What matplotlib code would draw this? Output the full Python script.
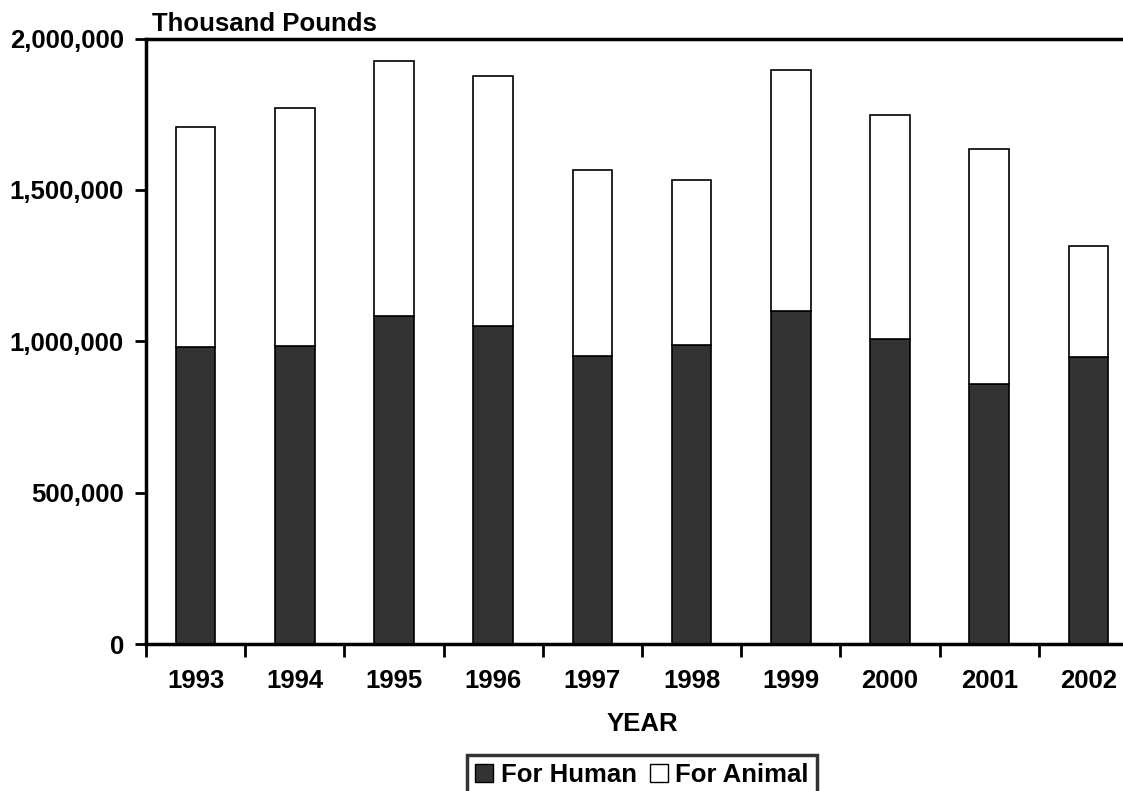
import numpy as np
import matplotlib.pyplot as plt
from matplotlib.patches import Patch
from matplotlib.ticker import FuncFormatter, FixedLocator

years = ['1993', '1994', '1995', '1996', '1997', '1998', '1999', '2000', '2001', '2002']
for_human = [982000, 985000, 1084000, 1051000, 951000, 988000, 1100000, 1007000, 858000, 949000]
totals = [1708000, 1769000, 1927000, 1877000, 1564000, 1533000, 1897000, 1747000, 1634000, 1314000]
for_animal = [t - h for t, h in zip(totals, for_human)]

plt.rcParams['font.family'] = ['Liberation Sans', 'DejaVu Sans']
plt.rcParams['font.weight'] = 'bold'
fs = 18.5

fig = plt.figure(figsize=(11.23, 7.91), dpi=100)
ax = fig.add_axes([146 / 1123, 1 - 644 / 791, 992 / 1123, (644 - 38.5) / 791])

x = np.arange(len(years))
ax.bar(x, for_human, width=0.4, color='#333333', edgecolor='black', linewidth=1.2)
ax.bar(x, for_animal, bottom=for_human, width=0.4, color='white', edgecolor='black', linewidth=1.2)

ax.set_xlim(-0.5, len(years) - 0.5)
ax.set_ylim(0, 2000000)
ax.set_yticks([0, 500000, 1000000, 1500000, 2000000])
ax.yaxis.set_major_formatter(FuncFormatter(lambda v, p: f'{int(v):,}'))
ax.set_xticks(x)
ax.set_xticklabels(years)
ax.xaxis.set_minor_locator(FixedLocator(np.arange(-0.5, len(years), 1)))

ax.tick_params(axis='x', which='major', length=0, pad=18, labelsize=fs)
ax.tick_params(axis='x', which='minor', length=9, width=2, direction='out')
ax.tick_params(axis='y', length=8, width=2, direction='out', pad=8, labelsize=fs)

for s in ['top', 'left', 'bottom']:
    ax.spines[s].set_linewidth(2.5)
ax.spines['right'].set_visible(False)

ax.set_xlabel('YEAR', fontsize=fs, fontweight='bold', labelpad=14)
fig.text(152 / 1123, 1 - 31 / 791, 'Thousand Pounds', fontsize=fs, fontweight='bold')

handles = [Patch(facecolor='#333333', edgecolor='black', label='For Human'),
           Patch(facecolor='white', edgecolor='black', label='For Animal')]
leg = fig.legend(handles=handles, loc='upper center', bbox_to_anchor=(642 / 1123, 1 - 755 / 791),
                 ncol=2, fontsize=fs, frameon=True, fancybox=False, handlelength=0.7,
                 handleheight=0.7, handletextpad=0.3, columnspacing=0.5, borderpad=0.3,
                 borderaxespad=0)
leg.get_frame().set_edgecolor('black')
leg.get_frame().set_linewidth(2.5)

fig.savefig('out.png', dpi=100)
